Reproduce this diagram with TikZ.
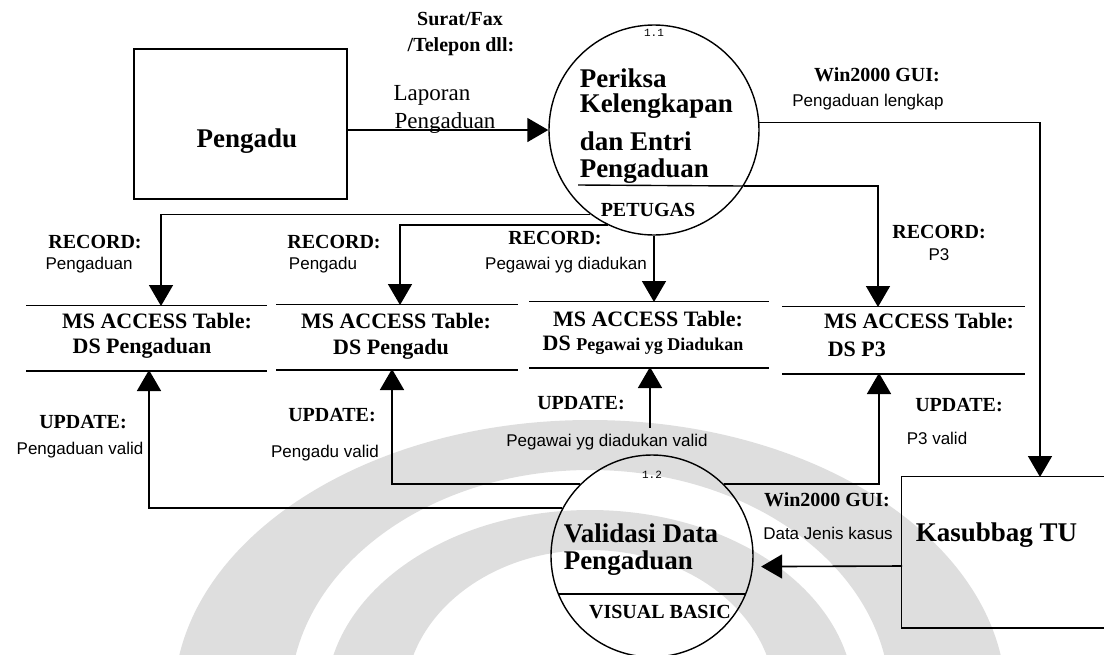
\documentclass[tikz,border=0pt]{standalone}
\usepackage{fontspec}
\setmainfont{Liberation Serif}
\newfontfamily\lsans{Liberation Sans}
\newfontfamily\lmono{Liberation Mono}
\usetikzlibrary{arrows.meta,calc}

\begin{document}
\begin{tikzpicture}[x=1pt,y=-1pt,
  line width=1.5pt,
  flow/.style={-{Triangle[width=24pt,length=21pt]}, line width=1.6pt},
  proc/.style={circle, draw, line width=1.4pt, inner sep=0pt},
  ent/.style={draw, line width=1.5pt, inner sep=0pt},
  bigt/.style={font=\fontsize{27}{30}\selectfont\bfseries, inner sep=0pt},
  tag/.style={font=\fontsize{20}{22}\selectfont\bfseries, inner sep=0pt},
  reg/.style={font=\fontsize{23}{25}\selectfont, inner sep=0pt},
  sub/.style={font=\lsans\fontsize{17}{19}\selectfont, inner sep=0pt},
  tbl/.style={font=\fontsize{22}{24}\selectfont\bfseries, inner sep=0pt},
  ds/.style={inner sep=0pt},
  num/.style={font=\lmono\fontsize{11}{12}\selectfont, inner sep=0pt},
  wm/.style={fill=black!13},
]
\useasboundingbox (0,0) rectangle (1104,654);

% faint logo in the background
\begin{scope}
  \clip (0,0) rectangle (1104,654);
  \fill[wm, even odd rule] (590,700) ellipse [x radius=416, y radius=280]
                           (590,700) ellipse [x radius=300, y radius=230];
  \fill[wm, even odd rule] (590,700) ellipse [x radius=264, y radius=190]
                           (590,700) ellipse [x radius=185, y radius=150];
\end{scope}

% external entities
\node[ent, minimum width=213pt, minimum height=150pt] (pengadu) at (240.5,124) {};
\node[bigt] (pengadulbl) at (247,141) {Pengadu};

\node[ds, minimum width=206pt, minimum height=150pt] (kas) at (1005,552) {};
\draw[line width=1.5pt] (kas.north east) -- (kas.north west) -- (kas.south west) -- (kas.south east);
\node[bigt, anchor=west] (kaslbl) at (915,535) {Kasubbag TU};

% process 1.1
\node[proc, minimum size=210pt] (p11) at (654,130) {};
\node[num] (n11) at (654,33) {1.1};
\node[bigt, anchor=west] (p11a) at (579,78) {Periksa};
\node[bigt, anchor=west] (p11b) at (579,106) {Kelengkapan};
\node[bigt, anchor=west] (p11c) at (579,141) {dan Entri};
\node[bigt, anchor=west] (p11d) at (579,171) {Pengaduan};
\coordinate (ch11) at (578,185);
\draw[line width=1.4pt] (ch11) -- (p11.328);
\node[tag] (pet) at (648,210) {PETUGAS};

% process 1.2
\node[proc, minimum size=202pt] (p12) at (652,556) {};
\node[num] (n12) at (652,475) {1.2};
\node[bigt, anchor=west] (p12a) at (563,533) {Validasi Data};
\node[bigt, anchor=west] (p12b) at (563,563) {Pengaduan};
\draw[line width=1.4pt] (p12.202) -- (p12.338);
\node[tag] (vb) at (660,612) {VISUAL BASIC};

% data stores
\node[ds, minimum width=239pt, minimum height=64pt] (s1) at (146.5,338) {};
\node[ds, minimum width=240pt, minimum height=64pt] (s2) at (397,337) {};
\node[ds, minimum width=238pt, minimum height=65pt] (s3) at (649,334.5) {};
\node[ds, minimum width=241pt, minimum height=66pt] (s4) at (903.5,340) {};
\foreach \s in {s1,s2,s3,s4}
  \draw[line width=1.5pt] (\s.north west) -- (\s.north east) (\s.south west) -- (\s.south east);

\node[tbl] (t1a) at (157,321) {MS ACCESS Table:};
\node[tbl] (t1b) at (142,348) {DS Pengaduan};
\node[tbl] (t2a) at (396,321) {MS ACCESS Table:};
\node[tbl] (t2b) at (391,349) {DS Pengadu};
\node[tbl] (t3a) at (648,319) {MS ACCESS Table:};
\node[tbl] (t3b) at (643,345) {DS {\fontsize{18}{20}\selectfont Pegawai yg Diadukan}};
\node[tbl] (t4a) at (919,321) {MS ACCESS Table:};
\node[tbl, anchor=west] (t4b) at (827,349) {DS P3};

% arrow end points on the stores
\coordinate (r1) at (161,306);
\coordinate (r2) at (400,305);
\coordinate (r3) at (654,302);
\coordinate (r4) at (878,307);
\coordinate (u1) at (149,370);
\coordinate (u2) at (392,369);
\coordinate (u3) at (650,367);
\coordinate (u4) at (879,373);
\coordinate (u3b) at (650,428);
\coordinate (kin) at (1040,477);
\coordinate (kout) at (902,566);

% flows
\draw[flow] (pengadu.east |- p11.west) -- (p11.west);
\node[tag] (lb1a) at (460,19) {Surat/Fax};
\node[tag] (lb1b) at (461,47) {/Telepon dll:};
\node[reg] (lb1c) at (432,95) {Laporan};
\node[reg] (lb1d) at (445,123) {Pengaduan};

\draw[flow] (p11.4) -| (kin);
\node[tag] (lb2a) at (877,75) {Win2000 GUI:};
\node[sub] (lb2b) at (868,102) {Pengaduan lengkap};

\draw[flow] (p11.233) -| (r1);
\node[tag] (lb3a) at (95,242) {RECORD:};
\node[sub] (lb3b) at (89,265) {Pengaduan};

\draw[flow] (p11.244) -| (r2);
\node[tag] (lb4a) at (334,242) {RECORD:};
\node[sub] (lb4b) at (323,265) {Pengadu};

\draw[flow] (p11.south) -- (r3);
\node[tag] (lb5a) at (555,238) {RECORD:};
\node[sub] (lb5b) at (566,265) {Pegawai yg diadukan};

\draw[flow] (p11.328) -| (r4);
\node[tag] (lb6a) at (939,232) {RECORD:};
\node[sub] (lb6b) at (939,255) {P3};

\draw[flow] (p12.152) -| (u1);
\node[tag] (lb7a) at (83,422) {UPDATE:};
\node[sub] (lb7b) at (80,450) {Pengaduan valid};

\draw[flow] (p12.135) -| (u2);
\node[tag] (lb8a) at (332,415) {UPDATE:};
\node[sub] (lb8b) at (325,453) {Pengadu valid};

\draw[flow] (u3b) -- (u3);
\node[tag] (lb9a) at (581,403) {UPDATE:};
\node[sub] (lb9b) at (607,442) {Pegawai yg diadukan valid};

\draw[flow] (p12.45) -| (u4);
\node[tag] (lb10a) at (959,405) {UPDATE:};
\node[sub] (lb10b) at (937,438) {P3 valid};

\draw[flow, shorten >=8pt] (kout) -- (p12.-6);
\node[tag] (lb11a) at (827,500) {Win2000 GUI:};
\node[sub] (lb11b) at (828,533) {Data Jenis kasus};
\end{tikzpicture}
\end{document}
